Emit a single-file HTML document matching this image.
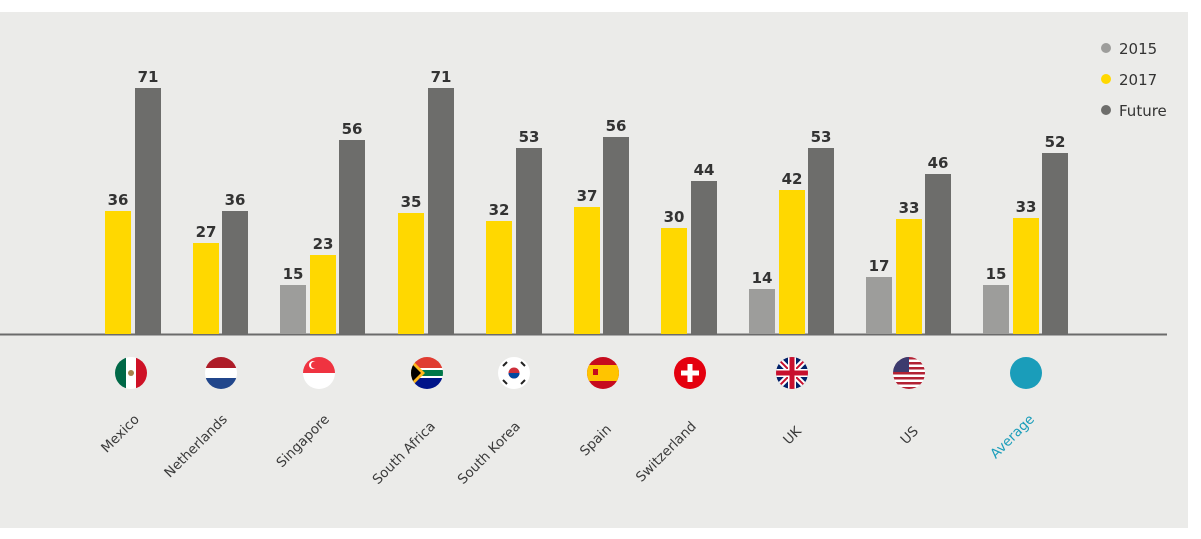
<!DOCTYPE html>
<html><head><meta charset="utf-8"><style>
html,body{margin:0;padding:0;background:#fff;}
svg{display:block;font-family:"DejaVu Sans","Liberation Sans",sans-serif;}
.v{font-weight:bold;font-size:15px;fill:#333;text-anchor:middle;}
.l{font-size:13.5px;fill:#3a3a3a;text-anchor:end;}
</style></head><body>
<svg width="1201" height="539" viewBox="0 0 1201 539">
<rect x="0" y="12" width="1188" height="516" fill="#ebebe9"/>
<defs><clipPath id="c"><circle r="16"/></clipPath></defs>
<line x1="0" y1="334.5" x2="1167" y2="334.5" stroke="#6b6b6b" stroke-width="2"/>
<rect x="105" y="211" width="26" height="123" fill="#ffd800"/><text class="v" x="118" y="205">36</text>
<rect x="135" y="88" width="26" height="246" fill="#6d6d6b"/><text class="v" x="148" y="82">71</text>
<rect x="193" y="243" width="26" height="91" fill="#ffd800"/><text class="v" x="206" y="237">27</text>
<rect x="222" y="211" width="26" height="123" fill="#6d6d6b"/><text class="v" x="235" y="205">36</text>
<rect x="280" y="285" width="26" height="49" fill="#9d9d9b"/><text class="v" x="293" y="279">15</text>
<rect x="310" y="255" width="26" height="79" fill="#ffd800"/><text class="v" x="323" y="249">23</text>
<rect x="339" y="140" width="26" height="194" fill="#6d6d6b"/><text class="v" x="352" y="134">56</text>
<rect x="398" y="213" width="26" height="121" fill="#ffd800"/><text class="v" x="411" y="207">35</text>
<rect x="428" y="88" width="26" height="246" fill="#6d6d6b"/><text class="v" x="441" y="82">71</text>
<rect x="486" y="221" width="26" height="113" fill="#ffd800"/><text class="v" x="499" y="215">32</text>
<rect x="516" y="148" width="26" height="186" fill="#6d6d6b"/><text class="v" x="529" y="142">53</text>
<rect x="574" y="207" width="26" height="127" fill="#ffd800"/><text class="v" x="587" y="201">37</text>
<rect x="603" y="137" width="26" height="197" fill="#6d6d6b"/><text class="v" x="616" y="131">56</text>
<rect x="661" y="228" width="26" height="106" fill="#ffd800"/><text class="v" x="674" y="222">30</text>
<rect x="691" y="181" width="26" height="153" fill="#6d6d6b"/><text class="v" x="704" y="175">44</text>
<rect x="749" y="289" width="26" height="45" fill="#9d9d9b"/><text class="v" x="762" y="283">14</text>
<rect x="779" y="190" width="26" height="144" fill="#ffd800"/><text class="v" x="792" y="184">42</text>
<rect x="808" y="148" width="26" height="186" fill="#6d6d6b"/><text class="v" x="821" y="142">53</text>
<rect x="866" y="277" width="26" height="57" fill="#9d9d9b"/><text class="v" x="879" y="271">17</text>
<rect x="896" y="219" width="26" height="115" fill="#ffd800"/><text class="v" x="909" y="213">33</text>
<rect x="925" y="174" width="26" height="160" fill="#6d6d6b"/><text class="v" x="938" y="168">46</text>
<rect x="983" y="285" width="26" height="49" fill="#9d9d9b"/><text class="v" x="996" y="279">15</text>
<rect x="1013" y="218" width="26" height="116" fill="#ffd800"/><text class="v" x="1026" y="212">33</text>
<rect x="1042" y="153" width="26" height="181" fill="#6d6d6b"/><text class="v" x="1055" y="147">52</text>

<g transform="translate(131,373)" clip-path="url(#c)"><rect x="-16" y="-16" width="11" height="32" fill="#006847"/><rect x="-5" y="-16" width="10" height="32" fill="#fff"/><rect x="5" y="-16" width="11" height="32" fill="#ce1126"/><circle r="3" fill="#a6824b"/></g>
<g transform="translate(221,373)" clip-path="url(#c)"><rect x="-16" y="-16" width="32" height="11" fill="#ae1c28"/><rect x="-16" y="-5" width="32" height="10" fill="#fff"/><rect x="-16" y="5" width="32" height="11" fill="#21468b"/></g>
<g transform="translate(319,373)" clip-path="url(#c)"><rect x="-16" y="-16" width="32" height="16" fill="#ef3340"/><rect x="-16" y="0" width="32" height="16" fill="#fff"/><circle cx="-6" cy="-8" r="4" fill="#fff"/><circle cx="-4.5" cy="-8" r="3.5" fill="#ef3340"/></g>
<g transform="translate(427,373)" clip-path="url(#c)"><rect x="-16" y="-16" width="32" height="11" fill="#e03c31"/><rect x="-16" y="5" width="32" height="11" fill="#001489"/><rect x="-16" y="-5" width="32" height="10" fill="#fff"/><rect x="-16" y="-3" width="32" height="6" fill="#007749"/><polygon points="-16,-14 -2,0 -16,14" fill="#ffb81c"/><polygon points="-16,-10 -6,0 -16,10" fill="#000"/></g>
<g transform="translate(514,373)" clip-path="url(#c)"><rect x="-16" y="-16" width="32" height="32" fill="#fff"/><circle r="5.5" fill="#cd2e3a"/><path d="M-5.5,0 A5.5,5.5 0 0 0 5.5,0 Z" fill="#0047a0"/><g stroke="#222" stroke-width="2"><line x1="-11" y1="-7" x2="-7" y2="-11"/><line x1="7" y1="-11" x2="11" y2="-7"/><line x1="-11" y1="7" x2="-7" y2="11"/><line x1="7" y1="11" x2="11" y2="7"/></g></g>
<g transform="translate(603,373)" clip-path="url(#c)"><rect x="-16" y="-16" width="32" height="32" fill="#c60b1e"/><rect x="-16" y="-8" width="32" height="16" fill="#ffc400"/><rect x="-10" y="-4" width="5" height="6" fill="#c60b1e"/></g>
<g transform="translate(690,373)" clip-path="url(#c)"><rect x="-16" y="-16" width="32" height="32" fill="#e4000f"/><rect x="-2.5" y="-9" width="5" height="18" fill="#fff"/><rect x="-9" y="-2.5" width="18" height="5" fill="#fff"/></g>
<g transform="translate(792,373)" clip-path="url(#c)"><rect x="-16" y="-16" width="32" height="32" fill="#012169"/><g stroke="#fff" stroke-width="6"><line x1="-16" y1="-16" x2="16" y2="16"/><line x1="16" y1="-16" x2="-16" y2="16"/></g><g stroke="#c8102e" stroke-width="2"><line x1="-16" y1="-16" x2="16" y2="16"/><line x1="16" y1="-16" x2="-16" y2="16"/></g><rect x="-4" y="-16" width="8" height="32" fill="#fff"/><rect x="-16" y="-4" width="32" height="8" fill="#fff"/><rect x="-2.5" y="-16" width="5" height="32" fill="#c8102e"/><rect x="-16" y="-2.5" width="32" height="5" fill="#c8102e"/></g>
<g transform="translate(909,373)" clip-path="url(#c)"><rect x="-16" y="-16" width="32" height="32" fill="#fff"/><g fill="#b22234"><rect x="-16" y="-16" width="32" height="2.5"/><rect x="-16" y="-11" width="32" height="2.5"/><rect x="-16" y="-6" width="32" height="2.5"/><rect x="-16" y="-1" width="32" height="2.5"/><rect x="-16" y="4" width="32" height="2.5"/><rect x="-16" y="9" width="32" height="2.5"/><rect x="-16" y="14" width="32" height="2.5"/></g><rect x="-16" y="-16" width="16" height="15" fill="#3c3b6e"/></g>
<circle cx="1026" cy="373" r="16" fill="#1a9dba"/>

<text class="l" transform="translate(140,420) rotate(-45)">Mexico</text>
<text class="l" transform="translate(228,420) rotate(-45)">Netherlands</text>
<text class="l" transform="translate(330,420) rotate(-45)">Singapore</text>
<text class="l" transform="translate(436,427) rotate(-45)">South Africa</text>
<text class="l" transform="translate(521,427) rotate(-45)">South Korea</text>
<text class="l" transform="translate(612,430) rotate(-45)">Spain</text>
<text class="l" transform="translate(697,427) rotate(-45)">Switzerland</text>
<text class="l" transform="translate(802,432) rotate(-45)">UK</text>
<text class="l" transform="translate(919,432) rotate(-45)">US</text>
<text class="l" transform="translate(1035,420) rotate(-45)" style="fill:#1a9dba">Average</text>

<circle cx="1106" cy="48" r="5" fill="#9d9d9b"/><text x="1119" y="54" font-size="15" fill="#333">2015</text>
<circle cx="1106" cy="79" r="5" fill="#ffd800"/><text x="1119" y="85" font-size="15" fill="#333">2017</text>
<circle cx="1106" cy="110" r="5" fill="#6d6d6b"/><text x="1119" y="116" font-size="15" fill="#333">Future</text>
</svg>
</body></html>
